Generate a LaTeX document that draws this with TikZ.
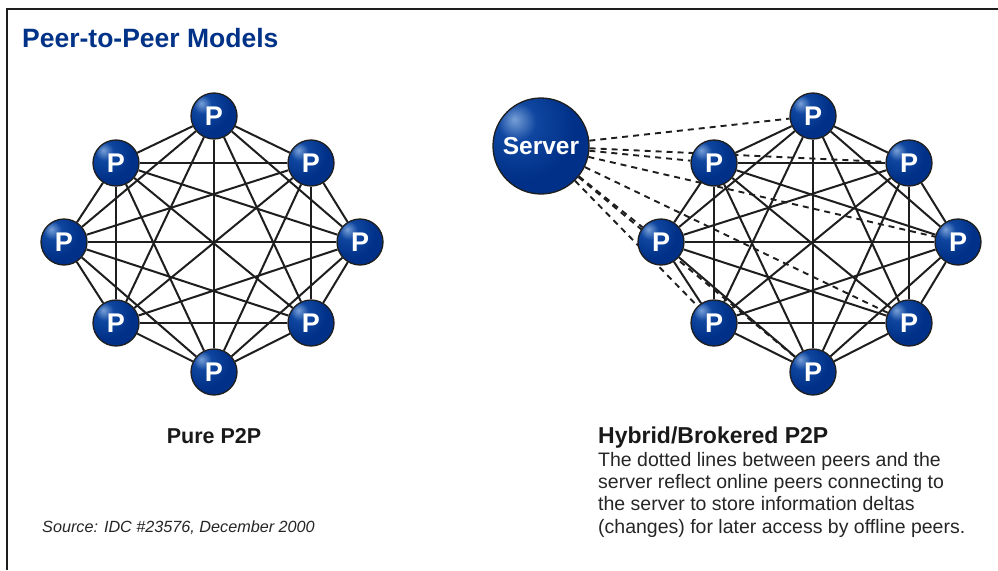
\documentclass[tikz,border=0pt]{standalone}
\usepackage{fontspec}
\setmainfont{Liberation Sans}
\usetikzlibrary{backgrounds}
\definecolor{titleblue}{RGB}{0,50,135}
\definecolor{ballbase}{RGB}{0,48,135}
\definecolor{ballmid}{RGB}{15,70,160}
\definecolor{ballhl}{RGB}{120,160,215}
\definecolor{linegray}{RGB}{30,30,30}
\pgfdeclareradialshading{pball}{\pgfpoint{-14bp}{14bp}}{%
  color(0bp)=(ballhl); color(10bp)=(ballmid); color(28bp)=(ballbase);
  color(55bp)=(ballbase); color(100bp)=(ballbase)}
\tikzset{
  peer/.style={circle, minimum size=46pt, inner sep=0pt, draw=linegray,
    line width=1.3pt, shading=pball, text=white,
    font=\bfseries\fontsize{27}{27}\selectfont},
  servernode/.style={circle, minimum size=96pt, inner sep=0pt, draw=linegray,
    line width=1.3pt, shading=pball, text=white,
    font=\bfseries\fontsize{24.5}{25}\selectfont},
  edge/.style={draw=linegray, line width=2pt},
  dashedge/.style={draw=linegray, line width=1.9pt, dash pattern=on 6pt off 5pt},
  caption/.style={anchor=base, inner sep=0pt, font=\bfseries\fontsize{21.5}{24}\selectfont, text=black!90},
  bodytext/.style={anchor=base west, inner sep=0pt, font=\fontsize{19.5}{22}\selectfont, text=black!85}
}
\begin{document}
\begin{tikzpicture}[x=1pt,y=-1pt]
\useasboundingbox (0,0) rectangle (998,570);
\begin{pgfonlayer}{background}
\fill[white] (0,0) rectangle (998,570);
\end{pgfonlayer}
\draw[line width=2.2pt, linegray] (7,570) -- (7,9) -- (998,9);

\node[anchor=base west, inner sep=0pt, text=titleblue,
  font=\bfseries\fontsize{26.5}{28}\selectfont] (title) at (22,47) {Peer-to-Peer Models};

% Pure P2P peers
\node[peer] (l1) at (214,116) {P};
\node[peer] (l2) at (311,163) {P};
\node[peer] (l3) at (360,242) {P};
\node[peer] (l4) at (311,323) {P};
\node[peer] (l5) at (214,372) {P};
\node[peer] (l6) at (116,323) {P};
\node[peer] (l7) at (64,242) {P};
\node[peer] (l8) at (116,163) {P};

% Hybrid peers
\node[peer] (r1) at (813,116) {P};
\node[peer] (r2) at (909,163) {P};
\node[peer] (r3) at (958,242) {P};
\node[peer] (r4) at (909,323) {P};
\node[peer] (r5) at (813,372) {P};
\node[peer] (r6) at (714,323) {P};
\node[peer] (r7) at (661,242) {P};
\node[peer] (r8) at (714,163) {P};

\node[servernode] (srv) at (541,146) {Server};

\begin{pgfonlayer}{background}
\foreach \i in {1,...,7}{
  \pgfmathtruncatemacro\s{\i+1}
  \foreach \j in {\s,...,8}{
    \draw[edge] (l\i) -- (l\j);
    \draw[edge] (r\i) -- (r\j);
  }
}
\foreach \i in {1,...,8}{
  \draw[dashedge] (srv) -- (r\i);
}
\end{pgfonlayer}

\node[caption] (pure) at (214,443) {Pure P2P};
\node[caption, anchor=base west, font=\bfseries\fontsize{23}{25}\selectfont] (hyb) at (598,443) {Hybrid/Brokered P2P};
\node[bodytext] (b1) at (598,466) {The dotted lines between peers and the};
\node[bodytext] (b2) at (598,488) {server reflect online peers connecting to};
\node[bodytext] (b3) at (598,510) {the server to store information deltas};
\node[bodytext] (b4) at (598,533) {(changes) for later access by offline peers.};

\node[anchor=base west, inner sep=0pt, font=\itshape\fontsize{16.2}{18}\selectfont, text=black!85] (src) at (42,532) {Source: IDC \#23576, December 2000};
\end{tikzpicture}
\end{document}
